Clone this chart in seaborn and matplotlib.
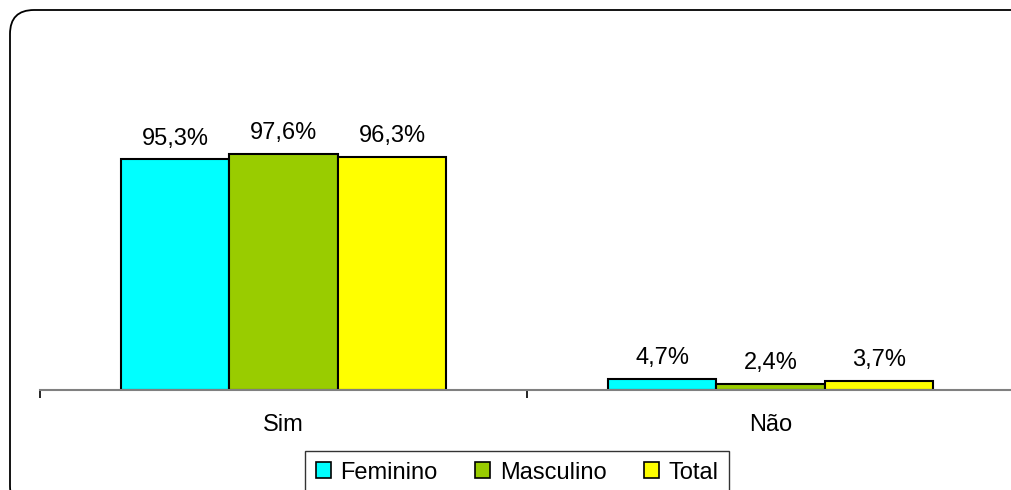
import matplotlib
matplotlib.use("Agg")
import matplotlib.pyplot as plt
from matplotlib.patches import FancyBboxPatch, Patch
from matplotlib.transforms import IdentityTransform
import seaborn as sns
import pandas as pd

# Respostas e percentuais por grupo
respostas = ["Sim", "Não"]
grupos = ["Feminino", "Masculino", "Total"]
feminino = [95.3, 4.7]
masculino = [97.6, 2.4]
total = [96.3, 3.7]
cores = ["#00FFFF", "#99CC00", "#FFFF00"]

df = pd.DataFrame({
    "resposta": respostas * 3,
    "grupo": [g for g in grupos for _ in respostas],
    "pct": feminino + masculino + total,
})

sns.set_style("white")
plt.rcParams["font.family"] = ["Liberation Sans", "DejaVu Sans"]
FS = 17

W, H = 1011, 490
fig = plt.figure(figsize=(W / 100, H / 100), dpi=100)

# Moldura arredondada do gráfico
frame = FancyBboxPatch((10, -20), 1040, 490 - 10 + 20,
                       boxstyle="round,pad=0,rounding_size=24",
                       transform=IdentityTransform(), facecolor="none",
                       edgecolor="black", linewidth=1.3, zorder=-1)
fig.patches.append(frame)

ax = fig.add_axes([40 / W, 100 / H, 974 / W, 242 / H])
ax.set_facecolor("none")

sns.barplot(data=df, x="resposta", y="pct", hue="grupo", order=respostas,
            hue_order=grupos, palette=cores, width=0.668, edgecolor="black",
            linewidth=1.5, saturation=1, ax=ax, legend=False)

for cont in ax.containers:
    labels = [f"{b.get_height():.1f}%".replace(".", ",") for b in cont]
    ax.bar_label(cont, labels=labels, padding=7, fontsize=FS,
                 color="black", clip_on=False)

ax.set_xlim(-0.5, 1.5)
ax.set_ylim(0, 100)
ax.set_xlabel("")
ax.set_ylabel("")
ax.set_yticks([])
for s in ["left", "right", "top"]:
    ax.spines[s].set_visible(False)
ax.spines["bottom"].set_color("#808080")
ax.spines["bottom"].set_linewidth(1.5)

# Rótulos das categorias no centro, marcas nas divisões entre categorias
ax.set_xticks([0, 1])
ax.set_xticklabels(respostas, fontsize=FS, color="black")
ax.tick_params(axis="x", which="major", bottom=True, length=0, pad=17)
ax.set_xticks([-0.5, 0.5, 1.5], minor=True)
ax.tick_params(axis="x", which="minor", bottom=True, length=5.5, width=1.2,
               color="black", direction="out")

handles = [Patch(facecolor=c, edgecolor="black", linewidth=1.2) for c in cores]
leg = fig.legend(handles, grupos, loc="upper left", mode="expand",
                 bbox_to_anchor=(305 / W, 1 - 451 / H, 424 / W, 0), ncol=3,
                 fontsize=FS, frameon=True, fancybox=False,
                 handlelength=0.65, handleheight=0.65, handletextpad=0.4,
                 columnspacing=1.2, borderpad=0.45, borderaxespad=0)
leg.get_frame().set_edgecolor("black")
leg.get_frame().set_linewidth(1.0)
for t in leg.get_texts():
    t.set_color("black")

fig.savefig("out.png", dpi=100)
